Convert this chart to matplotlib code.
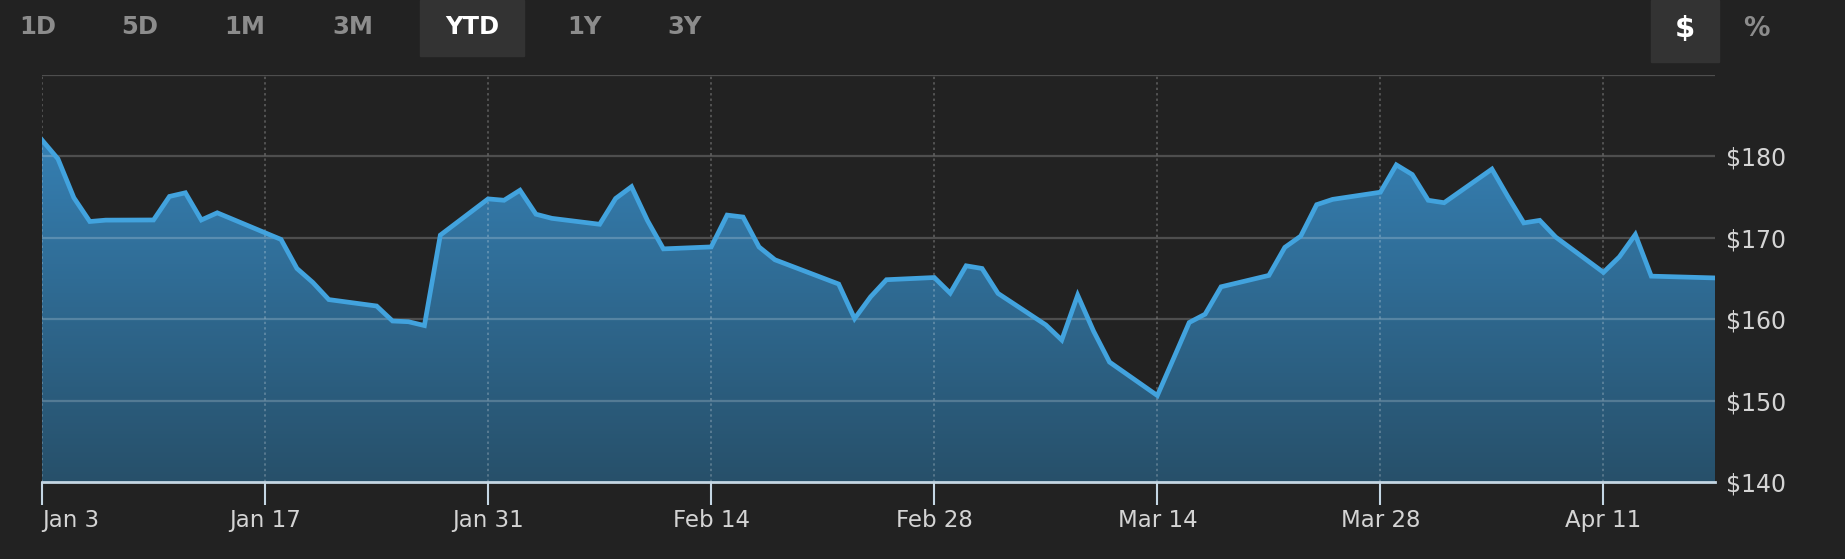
import matplotlib
matplotlib.use("Agg")
import matplotlib.pyplot as plt
import matplotlib.dates as mdates
from matplotlib.patches import Rectangle
from matplotlib.colors import LinearSegmentedColormap
import numpy as np
import pandas as pd

# daily closes, YTD
dates = ["2022-01-03", "2022-01-04", "2022-01-05", "2022-01-06", "2022-01-07",
         "2022-01-10", "2022-01-11", "2022-01-12", "2022-01-13", "2022-01-14",
         "2022-01-18", "2022-01-19", "2022-01-20", "2022-01-21", "2022-01-24",
         "2022-01-25", "2022-01-26", "2022-01-27", "2022-01-28", "2022-01-31",
         "2022-02-01", "2022-02-02", "2022-02-03", "2022-02-04", "2022-02-07",
         "2022-02-08", "2022-02-09", "2022-02-10", "2022-02-11", "2022-02-14",
         "2022-02-15", "2022-02-16", "2022-02-17", "2022-02-18", "2022-02-22",
         "2022-02-23", "2022-02-24", "2022-02-25", "2022-02-28", "2022-03-01",
         "2022-03-02", "2022-03-03", "2022-03-04", "2022-03-07", "2022-03-08",
         "2022-03-09", "2022-03-10", "2022-03-11", "2022-03-14", "2022-03-15",
         "2022-03-16", "2022-03-17", "2022-03-18", "2022-03-21", "2022-03-22",
         "2022-03-23", "2022-03-24", "2022-03-25", "2022-03-28", "2022-03-29",
         "2022-03-30", "2022-03-31", "2022-04-01", "2022-04-04", "2022-04-05",
         "2022-04-06", "2022-04-07", "2022-04-08", "2022-04-11", "2022-04-12",
         "2022-04-13", "2022-04-14", "2022-04-18"]
prices = [182.01, 179.70, 174.92, 172.00, 172.17,
          172.19, 175.08, 175.53, 172.19, 173.07,
          169.80, 166.23, 164.51, 162.41, 161.62,
          159.78, 159.69, 159.22, 170.33, 174.78,
          174.61, 175.84, 172.90, 172.39, 171.66,
          174.83, 176.28, 172.12, 168.64, 168.88,
          172.79, 172.55, 168.88, 167.30, 164.32,
          160.07, 162.74, 164.85, 165.12, 163.20,
          166.56, 166.23, 163.17, 159.30, 157.44,
          162.95, 158.52, 154.73, 150.62, 155.09,
          159.59, 160.62, 163.98, 165.38, 168.82,
          170.21, 174.07, 174.72, 175.60, 178.96,
          177.77, 174.61, 174.31, 178.44, 175.06,
          171.83, 172.14, 170.09, 165.75, 167.66,
          170.40, 165.29, 165.07]
tick_dates = ["2022-01-03", "2022-01-17", "2022-01-31", "2022-02-14",
              "2022-02-28", "2022-03-14", "2022-03-28", "2022-04-11"]
tick_labels = ["Jan 3", "Jan 17", "Jan 31", "Feb 14", "Feb 28", "Mar 14", "Mar 28", "Apr 11"]
y_ticks = [140, 150, 160, 170, 180]
buttons = ["1D", "5D", "1M", "3M", "YTD", "1Y", "3Y"]
active_button = "YTD"

bg = "#222222"
W, H = 1845, 559

fig = plt.figure(figsize=(W / 100, H / 100), dpi=100, facecolor=bg)
ax = fig.add_axes([42 / W, 1 - 482 / H, (1715 - 42) / W, (482 - 75) / H])
ax.set_facecolor(bg)

x = mdates.date2num(pd.to_datetime(dates))
y = np.array(prices)
ymin, ymax = 140, 190
x0 = mdates.date2num(pd.Timestamp("2022-01-03"))
x1 = mdates.date2num(pd.Timestamp("2022-04-18"))

# gradient area under the line
poly = ax.fill_between(x, y, ymin, color="none", lw=0)
cmap = LinearSegmentedColormap.from_list("g", ["#27506a", "#3888c0"])
grad = np.linspace(0, 1, 256).reshape(-1, 1)
im = ax.imshow(grad, extent=[x0, x1, ymin, ymax], origin="lower", aspect="auto",
               cmap=cmap, zorder=1)
path = poly.get_paths()[0]
im.set_clip_path(path, transform=ax.transData)

ax.plot(x, y, color="#42a3de", lw=3.4, solid_joinstyle="miter", zorder=4)

# grid
for v in [150, 160, 170, 180, 190]:
    ax.axhline(v, color="white", alpha=0.2, lw=1.6, zorder=2)
tx = mdates.date2num(pd.to_datetime(tick_dates))
for t in tx:
    ax.axvline(t, color="white", alpha=0.22, lw=1.4, ls=(0, (1.2, 1.6)), zorder=2)

ax.set_xlim(x0, x1)
ax.set_ylim(ymin, ymax)

for s in ["top", "left", "right"]:
    ax.spines[s].set_visible(False)
ax.spines["bottom"].set_color("#c4d6e3")
ax.spines["bottom"].set_linewidth(2)
ax.spines["bottom"].set_zorder(5)

ax.set_xticks(tx)
ax.set_xticklabels(tick_labels)
ax.tick_params(axis="x", direction="out", length=16.5, width=1.5, color="#c4d6e3",
               labelcolor="#d4d4d4", labelsize=16.5, pad=3)
ax.get_xticklabels()[0].set_ha("left")

ax.yaxis.tick_right()
ax.set_yticks(y_ticks)
ax.set_yticklabels([f"${v}" for v in y_ticks])
ax.tick_params(axis="y", length=0, labelcolor="#d4d4d4", labelsize=17, pad=8)

# range buttons
btn_x = [38, 140, 245, 353, 472, 584, 685]
fig.patches.append(Rectangle((420 / W, 1 - 56 / H), 104 / W, 56 / H,
                             transform=fig.transFigure, color="#333333", zorder=0))
fig.patches.append(Rectangle((1651 / W, 1 - 62 / H), 68 / W, 62 / H,
                             transform=fig.transFigure, color="#333333", zorder=0))
for b, bx in zip(buttons, btn_x):
    fig.text(bx / W, 1 - 27 / H, b, ha="center", va="center", fontsize=17.5,
             fontweight="bold", color="white" if b == active_button else "#8c8c8c")
fig.text(1685 / W, 1 - 29 / H, "$", ha="center", va="center", fontsize=21,
         fontweight="bold", color="white")
fig.text(1756 / W, 1 - 29 / H, "%", ha="center", va="center", fontsize=19,
         fontweight="bold", color="#8c8c8c")

fig.savefig("out.png", dpi=100, facecolor=bg)
